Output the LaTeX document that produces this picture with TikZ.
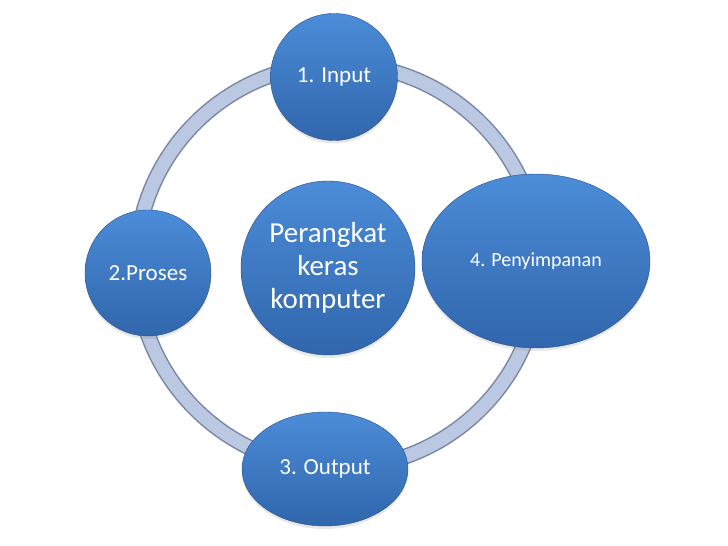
\documentclass[tikz,border=0pt]{standalone}
\usepackage{fontspec}
\setmainfont{Carlito}
\usepackage{tikz}
\usetikzlibrary{positioning, shapes.geometric, shadows}
\definecolor{bubbletop}{RGB}{76,140,216}
\definecolor{bubblebot}{RGB}{48,102,172}
\definecolor{bubbleedge}{RGB}{40,80,138}
\definecolor{ringfill}{RGB}{186,200,226}
\definecolor{ringedge}{RGB}{120,134,166}
\newcommand{\txtsmall}{\fontsize{23}{28}\selectfont}
\newcommand{\txtbig}{\fontsize{29}{33}\selectfont}

\begin{document}
\begin{tikzpicture}[x=1pt, y=1pt]
		\tikzset{
		    bubble/.style= {circle, draw=bubbleedge, thin, top color=bubbletop, bottom color=bubblebot, text=white, align=center, inner sep=0pt, drop shadow={opacity=0.18, shadow xshift=0pt, shadow yshift=-3pt}},
		    oval/.style= {bubble, ellipse},
		    ringback/.style= {draw=ringedge, line width=16pt},
		    ringfront/.style= {draw=ringfill, line width=13pt},
		}
		\useasboundingbox (0,0) rectangle (728,546);
		
		% ring behind the bubbles
		\coordinate (hub) at (338,280);
		\draw[ringback] (hub) circle (202);
		\draw[ringfront] (hub) circle (202);
		
		\node[bubble, minimum size=127pt, font=\txtsmall] (input) at (334,469) {1. Input};
		\node[oval, minimum width=228pt, minimum height=174pt, font=\fontsize{20}{24}\selectfont] (simpan) at (536,285) {4. Penyimpanan};
		\node[bubble, minimum size=126pt, font=\txtsmall] (proses) at (148,273) {2.Proses};
		\node[oval, minimum width=166pt, minimum height=114pt, font=\txtsmall] (output) at (325,77) {3. Output};
		\node[bubble, minimum size=174pt, font=\txtbig] (pusat) at (328,278) {Perangkat\\keras\\komputer};
	\end{tikzpicture}
\end{document}
